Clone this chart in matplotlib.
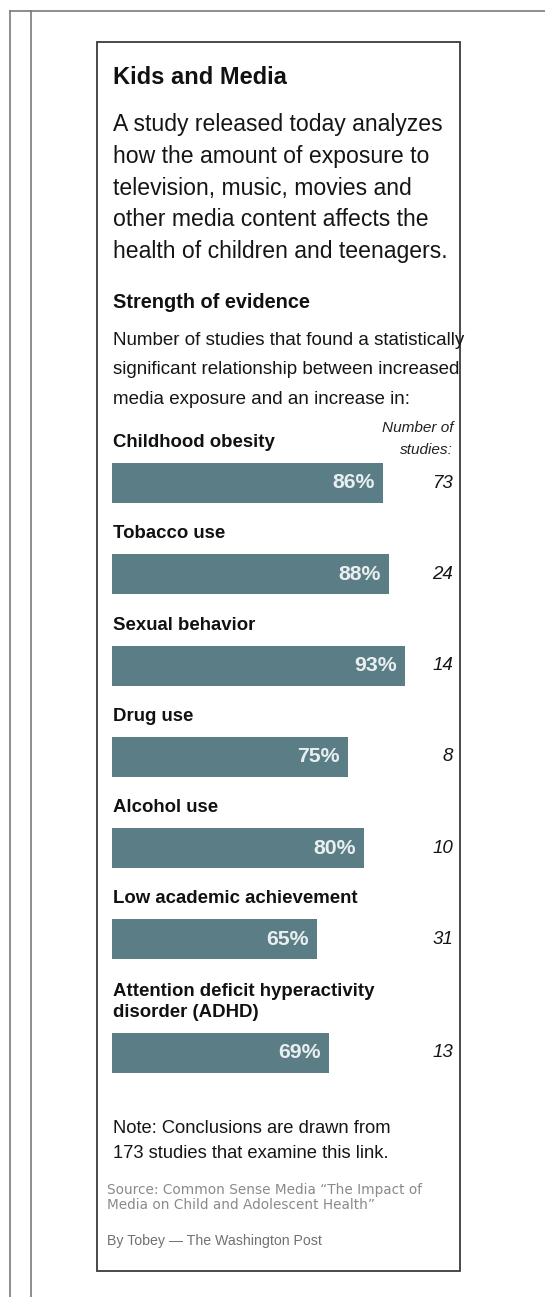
import matplotlib
matplotlib.use('Agg')
import matplotlib.pyplot as plt
from matplotlib.patches import Rectangle

# data
CATEGORIES = ['Childhood obesity', 'Tobacco use', 'Sexual behavior', 'Drug use',
              'Alcohol use', 'Low academic achievement',
              'Attention deficit hyperactivity\ndisorder (ADHD)']
PERCENTS = [86, 88, 93, 75, 80, 65, 69]
N_STUDIES = [73, 24, 14, 8, 10, 31, 13]

TITLE = 'Kids and Media'
INTRO = ['A study released today analyzes',
         'how the amount of exposure to',
         'television, music, movies and',
         'other media content affects the',
         'health of children and teenagers.']
SUBHEAD = 'Strength of evidence'
SUBTEXT = ['Number of studies that found a statistically',
           'significant relationship between increased',
           'media exposure and an increase in:']
NOTE = ['Note: Conclusions are drawn from',
        '173 studies that examine this link.']
SOURCE = ['Source: Common Sense Media \u201cThe Impact of',
          'Media on Child and Adolescent Health\u201d']
CREDIT = 'By Tobey \u2014 The Washington Post'

BAR_COLOR = '#5b7e86'
W, H = 545, 1297
FONT = 'Liberation Sans'
INK = '#151515'


def main():
    fig = plt.figure(figsize=(W / 100, H / 100), dpi=100)
    fig.patch.set_facecolor('white')

    # overlay axes in pixel units for text and frame
    ax = fig.add_axes([0, 0, 1, 1])
    ax.set_xlim(0, W)
    ax.set_ylim(H, 0)
    ax.axis('off')

    # page rules and box
    ax.plot([10, W], [11, 11], color='#7a7a7a', lw=1.2)
    ax.plot([10, 10], [11, H], color='#7a7a7a', lw=1.2)
    ax.plot([31, 31], [11, H], color='#7a7a7a', lw=1.2)
    ax.add_patch(Rectangle((97, 42), 363, 1229, fill=False, ec='#3a3a3a', lw=1.3))

    x0 = 113
    ax.text(x0, 84, TITLE, family=FONT, weight='bold', fontsize=17, color='#111111')
    for i, line in enumerate(INTRO):
        ax.text(x0, 131 + 31.8 * i, line, family=FONT, fontsize=16.6, color=INK)
    ax.text(x0, 308, SUBHEAD, family=FONT, weight='bold', fontsize=14.3, color='#111111')
    for i, line in enumerate(SUBTEXT):
        ax.text(x0, 345 + 29.3 * i, line, family=FONT, fontsize=13.5, color=INK)

    ax.text(453, 432, 'Number of', family=FONT, style='italic', fontsize=11.1,
            ha='right', color='#222222')
    ax.text(453, 454, 'studies:', family=FONT, style='italic', fontsize=11.1,
            ha='right', color='#222222')

    # bar rows: positions from row index, extra room for two-line labels
    centers = []
    y = 483
    for cat in CATEGORIES:
        y += 22 * cat.count('\n')
        centers.append(y)
        y += 91.3

    bx = fig.add_axes([112 / W, 0, 315 / W, 1])
    bx.set_xlim(0, 100)
    bx.set_ylim(H, 0)
    bx.axis('off')
    bx.barh(centers, PERCENTS, height=40, left=0, color=BAR_COLOR)

    for cat, pct, n, yc in zip(CATEGORIES, PERCENTS, N_STUDIES, centers):
        lines = cat.split('\n')
        for j, line in enumerate(lines):
            yb = yc - 20 - 16 - 21 * (len(lines) - 1 - j)
            ax.text(x0, yb, line, family=FONT, weight='bold', fontsize=13.4,
                    color='#111111')
        bx.annotate(f'{pct}%', xy=(pct, yc), xytext=(-6, 0), textcoords='offset points',
                    ha='right', va='center', family=FONT, weight='bold', fontsize=15.3,
                    color='#e9eff1')
        ax.text(453, yc, str(n), family=FONT, style='italic', fontsize=13.5,
                ha='right', va='center', color=INK)

    for i, line in enumerate(NOTE):
        ax.text(x0, 1133 + 25 * i, line, family=FONT, fontsize=13.2, color=INK)
    for i, line in enumerate(SOURCE):
        ax.text(107, 1194 + 15 * i, line, family='DejaVu Sans', fontsize=9.85,
                color='#8a8a8a')
    ax.text(107, 1245, CREDIT, family=FONT, fontsize=10.2, color='#707070')

    fig.savefig('out.png', dpi=100, facecolor='white')


if __name__ == '__main__':
    main()
